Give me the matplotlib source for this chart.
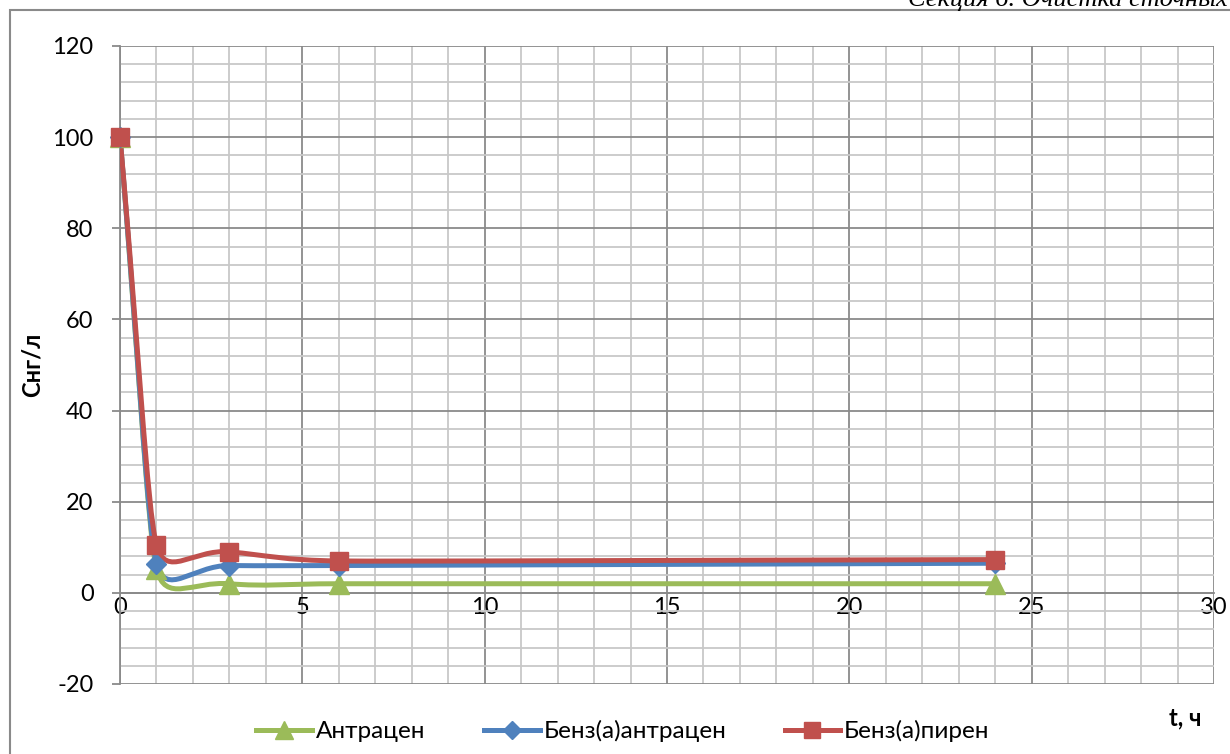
import numpy as np
import matplotlib
matplotlib.use("Agg")
from matplotlib import pyplot as plt
from matplotlib.path import Path
from matplotlib.patches import PathPatch, Rectangle
from matplotlib.lines import Line2D
from matplotlib.ticker import MultipleLocator

plt.rcParams["font.family"] = ["Lato", "DejaVu Sans"]
plt.rcParams["axes.unicode_minus"] = False

t_hours = [0, 1, 3, 6, 24]
anthracene = [100, 5.3, 2.0, 2.0, 2.0]
benz_a_anthracene = [100, 6.4, 6.0, 6.0, 6.5]
benz_a_pyrene = [100, 10.5, 9.0, 7.0, 7.3]

series = [
    ("Антрацен", anthracene, "#9BBB59", "^", 14),
    ("Бенз(а)антрацен", benz_a_anthracene, "#4F81BD", "D", 10),
    ("Бенз(а)пирен", benz_a_pyrene, "#C0504D", "s", 13),
]


def smooth_path(ax, xs, ys, f=0.5):
    # Excel-like smoothing in screen space; handle length limited by the
    # shorter neighbouring segment so steep drops stay almost straight
    pts = ax.transData.transform(np.column_stack([xs, ys]))
    n = len(pts)
    seg = [np.hypot(*(pts[i + 1] - pts[i])) for i in range(n - 1)]
    tang, hlen = [], []
    for i in range(n):
        a = pts[max(i - 1, 0)]
        b = pts[min(i + 1, n - 1)]
        d = b - a
        tang.append(d / np.hypot(*d))
        near = [seg[j] for j in (i - 1, i) if 0 <= j < n - 1]
        hlen.append(f * min(near))
    verts = [pts[0]]
    codes = [Path.MOVETO]
    for i in range(n - 1):
        c1 = pts[i] + tang[i] * hlen[i]
        c2 = pts[i + 1] - tang[i + 1] * hlen[i + 1]
        verts += [c1, c2, pts[i + 1]]
        codes += [Path.CURVE4] * 3
    verts = ax.transData.inverted().transform(np.array(verts))
    return Path(verts, codes)


fig = plt.figure(figsize=(12.3, 7.54), dpi=100)
ax = fig.add_axes([120 / 1230, 1 - 684 / 754, 1094 / 1230, 638 / 754])
ax.set_xlim(0, 30)
ax.set_ylim(-20, 120)

ax.xaxis.set_major_locator(MultipleLocator(5))
ax.xaxis.set_minor_locator(MultipleLocator(1))
ax.yaxis.set_major_locator(MultipleLocator(20))
ax.yaxis.set_minor_locator(MultipleLocator(4))
ax.grid(which="minor", color="#c8c8c8", lw=1.3)
ax.grid(which="major", color="#8a8a8a", lw=1.3)
ax.set_axisbelow(True)

for s in ["top", "right"]:
    ax.spines[s].set_visible(False)
ax.spines["bottom"].set_position(("data", 0))
ax.spines["bottom"].set_color("#8a8a8a")
ax.spines["left"].set_color("#8a8a8a")
ax.spines["bottom"].set_linewidth(1.3)
ax.spines["left"].set_linewidth(1.3)
ax.tick_params(axis="y", which="major", length=6, color="#8a8a8a", width=1.3,
               labelsize=17, pad=13)
ax.tick_params(axis="x", which="major", length=0, labelsize=17, pad=3)
ax.tick_params(which="minor", length=0)

fig.canvas.draw()
handles = []
for name, vals, color, marker, ms in series:
    p = smooth_path(ax, t_hours, vals)
    ax.add_patch(PathPatch(p, facecolor="none", edgecolor=color, lw=3.6,
                           capstyle="round", joinstyle="round", zorder=3))
for name, vals, color, marker, ms in series:
    ax.plot(t_hours, vals, ls="none", marker=marker, ms=ms, color=color,
            mec=color, zorder=4, clip_on=False)
    handles.append(Line2D([], [], color=color, lw=3.6, marker=marker, ms=ms - 1,
                          mec=color))

ax.set_ylabel("Снг/л", fontsize=17, fontweight="bold")
ax.yaxis.set_label_coords(-0.07, 0.5)
fig.text(1185 / 1230, 1 - 718 / 754, "t, ч", fontsize=17, fontweight="bold",
         ha="center", va="center")

fig.legend(handles, [s[0] for s in series], loc="center",
           bbox_to_anchor=(623 / 1230, 1 - 731 / 754), ncol=3, frameon=False,
           fontsize=17.5, handlelength=2.3, handletextpad=0.15, columnspacing=2.4)

fig.patches.append(Rectangle((10 / 1230, -0.1), 1.2, 1 - 10 / 754 + 0.1,
                             transform=fig.transFigure, fill=False,
                             edgecolor="#8a8a8a", lw=1.5))
fig.text(1228 / 1230, 1 - 6 / 754, "Секция 6. Очистка сточных", fontsize=19,
         family="Liberation Serif", style="italic", ha="right", va="baseline")

fig.savefig("out.png", dpi=100)
